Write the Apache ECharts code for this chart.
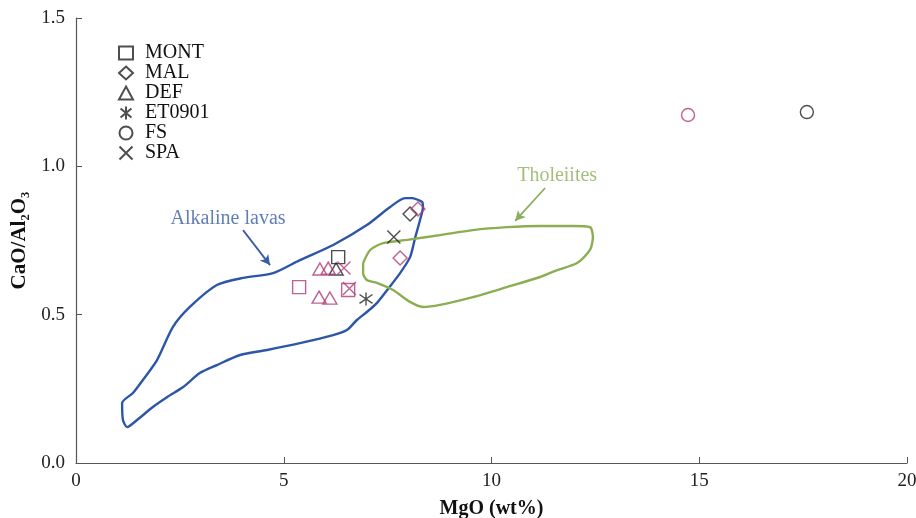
<!DOCTYPE html>
<html>
<head>
<meta charset="utf-8">
<script src="https://cdn.jsdelivr.net/npm/echarts@6/dist/echarts.min.js"></script>
<style>html,body{margin:0;padding:0;background:#fff}#c{width:916px;height:518px}</style>
</head>
<body>
<div id="c"></div>
<script>
// ---- data ----
var xTicks = [0, 5, 10, 15, 20];
var yTicks = [0, 0.5, 1.0, 1.5];
var legendNames = ['MONT', 'MAL', 'DEF', 'ET0901', 'FS', 'SPA'];

var montBlack = [[6.31, 0.694]];
var montMagenta = [[5.37, 0.593], [6.55, 0.583]];
var malBlack = [[8.04, 0.839]];
var malMagenta = [[8.23, 0.856], [7.80, 0.691]];
var defBlack = [[6.26, 0.654]];
var defMagenta = [[5.87, 0.654], [6.07, 0.657], [5.85, 0.559], [6.11, 0.556]];
var et0901Black = [[6.98, 0.553]];
var fsBlack = [[17.59, 1.183]];
var fsMagenta = [[14.73, 1.173]];
var spaBlack = [[7.65, 0.762]];
var spaMagenta = [[6.45, 0.657], [6.58, 0.588]];

var alkalinePoly = [
  [8.11,0.893],[8.33,0.880],[8.35,0.863],[8.28,0.819],[8.16,0.758],[8.04,0.694],
  [7.80,0.640],[7.49,0.583],[7.24,0.539],[7.00,0.509],[6.76,0.482],[6.52,0.448],
  [6.19,0.431],[5.39,0.404],[4.60,0.381],[3.95,0.364],[3.39,0.330],[2.98,0.303],
  [2.58,0.256],[2.19,0.222],[1.85,0.189],[1.47,0.145],[1.23,0.121],[1.13,0.145],
  [1.11,0.202],[1.37,0.236],[1.61,0.280],[1.95,0.347],[2.33,0.458],[2.74,0.526],
  [3.39,0.600],[4.02,0.624],[4.74,0.640],[5.39,0.684],[6.19,0.735],[7.00,0.802],
  [7.56,0.863],[7.92,0.893],[8.11,0.893]
];
var tholeiitePoly = [
  [6.91,0.674],[7.08,0.718],[7.39,0.741],[7.97,0.752],[8.76,0.768],[9.55,0.785],
  [10.37,0.795],[11.17,0.799],[11.96,0.799],[12.37,0.795],[12.44,0.762],[12.37,0.718],
  [12.06,0.674],[11.58,0.650],[11.17,0.627],[10.37,0.593],[9.55,0.559],[8.76,0.533],
  [8.35,0.526],[8.04,0.543],[7.63,0.583],[7.24,0.607],[7.00,0.617],[6.91,0.640],[6.91,0.674]
];

var alkalineLabel = {text: 'Alkaline lavas', at: [3.66, 0.825]};
var alkalineArrow = [[4.02, 0.785], [4.67, 0.667]];
var tholeiiteLabel = {text: 'Tholeiites', at: [11.58, 0.968]};
var tholeiiteArrow = [[11.29, 0.927], [10.57, 0.816]];

// ---- styles ----
var BLACK = '#222222', MAG = '#b03a76', BLUE = '#2d56a8', GREEN = '#8cae52';
var FONT = 'Liberation Serif';
var SYM = {
  MONT: 'rect', MAL: 'diamond', DEF: 'triangle', FS: 'circle',
  ET0901: 'path://M5,0L5,10M0.8,1.6L9.2,8.4M0.8,8.4L9.2,1.6',
  SPA: 'path://M0,0L10,10M0,10L10,0'
};
var SIZE = {MONT: 13, MAL: [14, 14], DEF: [14, 12], FS: 13, ET0901: 13, SPA: 13};

function sc(name, data, color) {
  return {
    type: 'scatter', name: name, data: data, symbol: SYM[name], symbolSize: SIZE[name],
    itemStyle: {color: 'rgba(0,0,0,0)', borderColor: color, borderWidth: 1.4},
    z: 5, silent: true
  };
}
function poly(name, data, color) {
  return {
    type: 'line', name: name, data: data, showSymbol: false, smooth: 0.25,
    lineStyle: {color: color, width: 2.4}, z: 2, silent: true
  };
}
function annot(lbl, arrow, color) {
  return {
    type: 'scatter', name: '_' + lbl.text, data: [lbl.at], symbolSize: 0, z: 3, silent: true,
    label: {show: true, position: 'inside', formatter: lbl.text, color: color,
            fontFamily: FONT, fontSize: 20},
    markLine: {
      silent: true, symbol: ['none', 'arrow'], symbolSize: [8, 10],
      lineStyle: {color: color, width: 1.8, type: 'solid'}, label: {show: false},
      data: [[{coord: arrow[0]}, {coord: arrow[1]}]]
    }
  };
}

var chart = echarts.init(document.getElementById('c'), null, {renderer: 'canvas'});
chart.setOption({
  animation: false,
  backgroundColor: '#fff',
  grid: {left: 76, right: 9, top: 18, bottom: 55, containLabel: false, outerBoundsMode: 'none'},
  legend: {
    data: legendNames, orient: 'vertical', left: 113, top: 38, selectedMode: false,
    itemWidth: 14, itemHeight: 13, itemGap: 0,
    textStyle: {fontFamily: FONT, fontSize: 20, color: '#111', lineHeight: 19.3, padding: [0, 0, 0, 7]}
  },
  xAxis: {
    type: 'value', min: xTicks[0], max: xTicks[xTicks.length - 1], interval: 5,
    name: 'MgO (wt%)', nameLocation: 'middle', nameGap: 36,
    nameTextStyle: {fontFamily: FONT, fontSize: 20, fontWeight: 'bold', color: '#111'},
    axisLine: {show: true, lineStyle: {color: '#555', width: 1.2}},
    axisTick: {show: true, inside: true, length: 6, lineStyle: {color: '#555'}},
    axisLabel: {fontFamily: FONT, fontSize: 19, color: '#222', margin: 9},
    splitLine: {show: false}
  },
  yAxis: {
    type: 'value', min: yTicks[0], max: yTicks[yTicks.length - 1], interval: 0.5,
    name: 'CaO/Al\u2082O\u2083', nameLocation: 'middle', nameGap: 42,
    nameTextStyle: {fontFamily: FONT, fontSize: 21, fontWeight: 'bold', color: '#111'},
    axisLine: {show: true, lineStyle: {color: '#555', width: 1.2}},
    axisTick: {show: true, inside: true, length: 6, lineStyle: {color: '#555'}},
    axisLabel: {fontFamily: FONT, fontSize: 19, color: '#222', margin: 11,
                formatter: function (v) { return v.toFixed(1); }},
    splitLine: {show: false}
  },
  series: [
    poly('Alkaline', alkalinePoly, BLUE),
    poly('Tholeiite', tholeiitePoly, GREEN),
    annot(alkalineLabel, alkalineArrow, '#3a5ca6'),
    annot(tholeiiteLabel, tholeiiteArrow, '#8caf5c'),
    sc('MONT', montBlack, BLACK), sc('MONT', montMagenta, MAG),
    sc('MAL', malBlack, BLACK), sc('MAL', malMagenta, MAG),
    sc('DEF', defBlack, BLACK), sc('DEF', defMagenta, MAG),
    sc('ET0901', et0901Black, BLACK),
    sc('FS', fsBlack, BLACK), sc('FS', fsMagenta, MAG),
    sc('SPA', spaBlack, BLACK), sc('SPA', spaMagenta, MAG)
  ]
});
</script>
</body>
</html>
